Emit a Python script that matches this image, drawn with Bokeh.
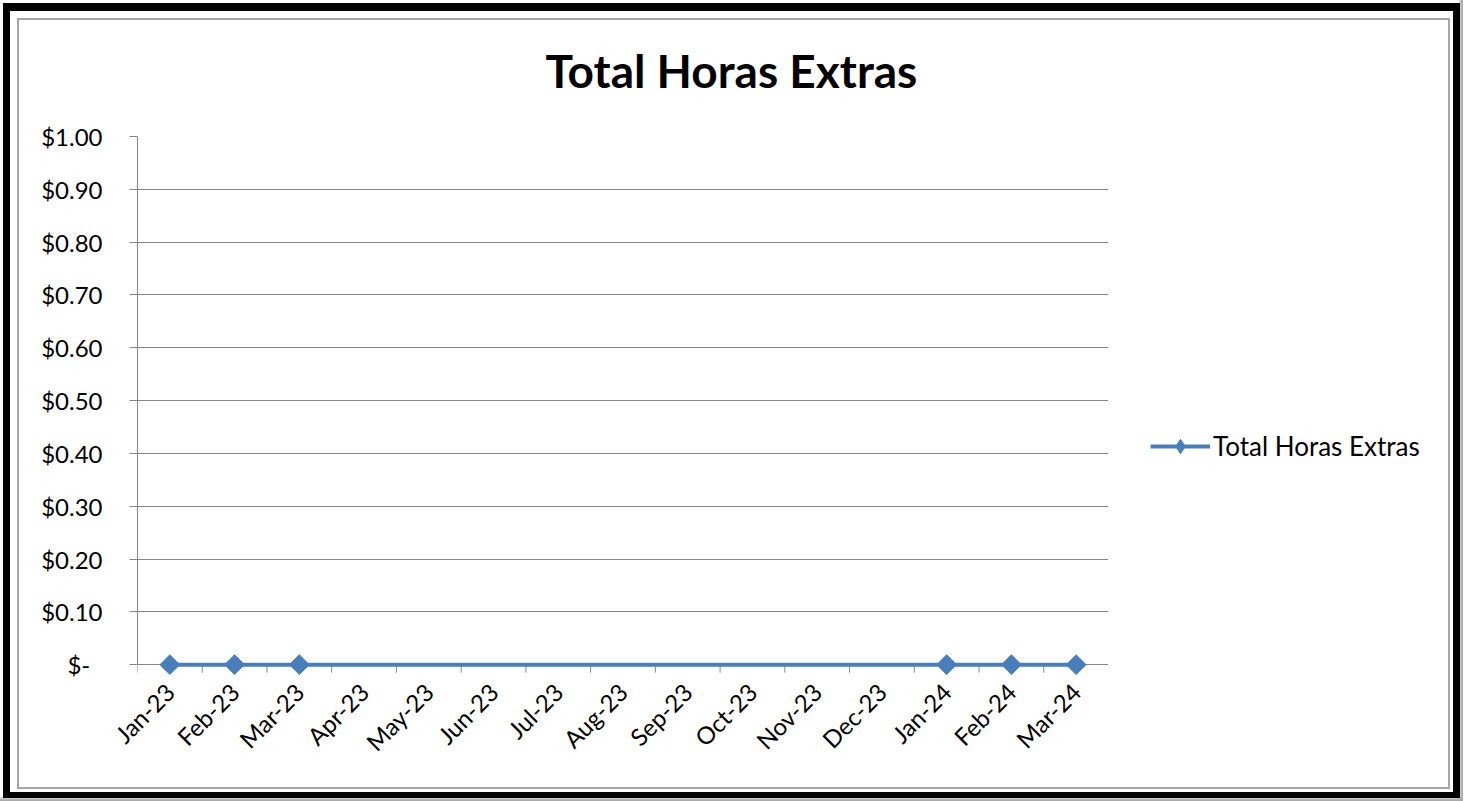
import math
from bokeh.plotting import figure
from bokeh.models import Range1d, FixedTicker, Legend, LegendItem, ColumnDataSource
from bokeh.layouts import row
from bokeh.embed import file_html
from bokeh.resources import INLINE

# ---- data ----
months = ["Jan-23", "Feb-23", "Mar-23", "Apr-23", "May-23", "Jun-23", "Jul-23",
          "Aug-23", "Sep-23", "Oct-23", "Nov-23", "Dec-23", "Jan-24", "Feb-24", "Mar-24"]
data_months = ["Jan-23", "Feb-23", "Mar-23", "Jan-24", "Feb-24", "Mar-24"]
data_values = [0, 0, 0, 0, 0, 0]
y_ticks = [0.0, 0.1, 0.2, 0.3, 0.4, 0.5, 0.6, 0.7, 0.8, 0.9, 1.0]
y_tick_labels = ["$-\u00a0\u00a0", "$0.10", "$0.20", "$0.30", "$0.40", "$0.50",
                 "$0.60", "$0.70", "$0.80", "$0.90", "$1.00"]
series_name = "Total Horas Extras"
chart_title = "Total Horas Extras"

FONT = "Lato"
GRID = "#868686"
BLUE = "#4A7EBB"
TICK_LEN = 8 / 528  # tick length (8px) in y units

src = ColumnDataSource(dict(x=[months.index(m) + 0.5 for m in data_months], y=data_values))
bounds = list(range(len(months) + 1))
tick_src = ColumnDataSource(dict(x=bounds, y0=[0] * len(bounds), y1=[-TICK_LEN] * len(bounds)))

p = figure(frame_width=971, frame_height=544,
           x_range=Range1d(0, len(months)), y_range=Range1d(-0.03, 1),
           output_backend="svg", toolbar_location=None,
           min_border_left=137, min_border_right=0,
           min_border_top=136, min_border_bottom=121,
           title=chart_title)
p.background_fill_color = "white"
p.border_fill_alpha = 0
p.outline_line_color = None

p.title.align = "left"
p.title.offset = 408
p.title.text_font = FONT
p.title.text_font_size = "46px"
p.title.text_font_style = "bold"
p.title.text_color = "#000000"
p.title.standoff = 78

# category boundary tick marks under the zero line
p.segment(x0="x", y0="y0", x1="x", y1="y1", source=tick_src, line_color=GRID, line_width=1)

r_line = p.line("x", "y", source=src, line_width=4, line_color=BLUE)
r_pts = p.scatter("x", "y", source=src, marker="square", angle=math.pi / 4, size=14,
                  fill_color=BLUE, line_color=BLUE)

# x axis (labels only; the zero gridline serves as axis line)
xa = p.xaxis[0]
xa.ticker = FixedTicker(ticks=[i + 0.5 for i in range(len(months))], minor_ticks=[])
xa.major_label_overrides = {i + 0.5: m for i, m in enumerate(months)}
xa.major_label_orientation = math.pi / 4
xa.major_tick_line_color = None
xa.minor_tick_line_color = None
xa.major_tick_in = 0
xa.major_tick_out = 0
xa.axis_line_color = None
xa.major_label_standoff = 7
xa.major_label_text_font = FONT
xa.major_label_text_font_size = "24px"
xa.major_label_text_color = "#000000"

# y axis
ya = p.yaxis[0]
ya.ticker = FixedTicker(ticks=y_ticks)
ya.major_label_overrides = {t: l for t, l in zip(y_ticks, y_tick_labels)}
ya.major_tick_in = 0
ya.major_tick_out = 8
ya.major_tick_line_color = GRID
ya.minor_tick_line_color = None
ya.axis_line_color = GRID
ya.major_label_standoff = 27
ya.major_label_text_font = FONT
ya.major_label_text_font_size = "24px"
ya.major_label_text_color = "#000000"
ya.bounds = (0, 1)

p.xgrid.visible = False
p.ygrid.grid_line_color = GRID

# legend panel (separate figure to the right of the plot area)
p2 = figure(width=355, height=801, x_range=Range1d(0, 1), y_range=Range1d(0, 1),
            output_backend="svg", toolbar_location=None, min_border=0,
            x_axis_type=None, y_axis_type=None)
p2.background_fill_alpha = 0
p2.border_fill_alpha = 0
p2.outline_line_color = None
p2.grid.visible = False
nan = float("nan")
l_line = p2.line(x=[nan], y=[nan], line_width=4, line_color=BLUE)
l_pts = p2.scatter(x=[nan], y=[nan], marker="diamond", size=18, fill_color=BLUE, line_color=BLUE)

legend = Legend(items=[LegendItem(label=series_name, renderers=[l_line, l_pts])],
                location=(42, 216), border_line_color=None, background_fill_alpha=0,
                margin=0, padding=0, glyph_width=60, glyph_height=36, label_standoff=3,
                label_text_font=FONT, label_text_font_size="26px", label_text_color="#000000",
                spacing=0)
p2.add_layout(legend, "center")

layout = row(p, p2, styles={
    "background": "white",
    "box-shadow": ("inset -3px -3px 3px 0 rgba(0,0,0,0.35), "
                   "inset 0 0 0 3px white, "
                   "inset 0 1px 0 10px black, "
                   "inset 2px 3px 0 15px white, "
                   "inset 2px 3px 0 17px #a6a6a6"),
})

open("out.html", "w").write(file_html(layout, INLINE))
